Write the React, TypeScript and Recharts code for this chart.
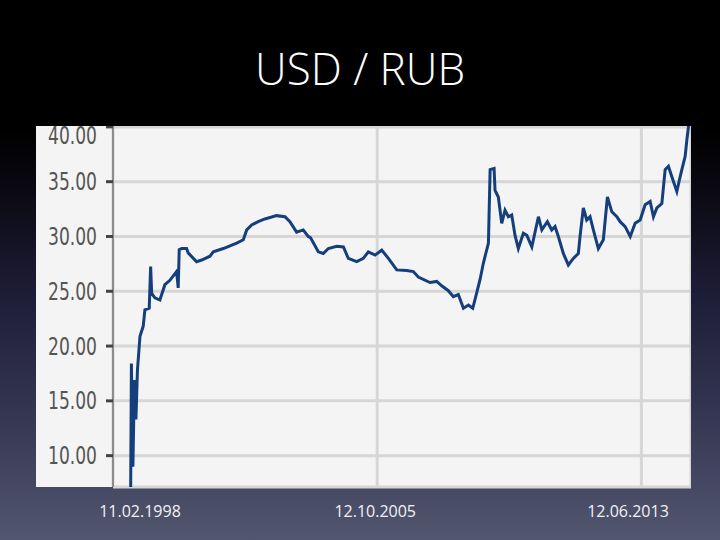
import React from "react";
import { CartesianGrid, Line, LineChart, XAxis, YAxis } from "recharts";

// USD/RUB (approximate)
const dates = [
  "1998-02-11", "1998-07-30", "1998-08-17", "1998-08-25", "1998-09-10", "1998-09-26",
  "1998-10-12", "1998-10-28", "1998-11-24", "1998-12-28", "1999-01-15", "1999-03-02",
  "1999-03-17", "1999-03-28", "1999-05-01", "1999-06-23", "1999-08-15", "1999-10-07",
  "1999-12-17", "2000-01-03", "2000-01-14", "2000-02-08", "2000-04-01", "2000-04-18",
  "2000-07-16", "2000-09-08", "2000-12-05", "2001-01-09", "2001-04-25", "2001-09-14",
  "2001-11-23", "2001-12-29", "2002-02-20", "2002-04-30", "2002-07-10", "2002-11-11",
  "2003-02-08", "2003-04-01", "2003-06-11", "2003-08-20", "2003-10-12", "2003-11-05",
  "2004-01-27", "2004-03-20", "2004-05-12", "2004-08-09", "2004-10-19", "2004-12-10",
  "2005-03-09", "2005-05-18", "2005-07-10", "2005-09-19", "2005-11-29", "2006-02-08",
  "2006-05-07", "2006-08-21", "2006-10-30", "2006-12-22", "2007-04-25", "2007-07-05",
  "2007-08-27", "2007-11-05", "2007-12-28", "2008-02-19", "2008-04-13", "2008-06-05",
  "2008-07-21", "2008-09-02", "2008-10-07", "2008-11-10", "2009-01-03", "2009-01-21",
  "2009-03-04", "2009-03-14", "2009-04-18", "2009-05-24", "2009-06-28", "2009-08-02",
  "2009-09-07", "2009-10-12", "2009-11-16", "2010-01-08", "2010-02-14", "2010-04-08",
  "2010-06-17", "2010-07-23", "2010-09-20", "2010-11-05", "2010-12-10", "2011-01-14",
  "2011-03-08", "2011-04-30", "2011-06-22", "2011-08-14", "2011-09-01", "2011-10-06",
  "2011-11-11", "2011-12-16", "2012-01-20", "2012-03-13", "2012-05-05", "2012-06-17",
  "2012-08-03", "2012-09-25", "2012-10-30", "2012-12-22", "2013-02-14", "2013-04-07",
  "2013-05-30", "2013-07-22", "2013-09-13", "2013-10-18", "2013-11-23", "2014-01-15",
  "2014-02-19", "2014-03-26", "2014-05-01", "2014-06-23", "2014-07-20", "2014-08-15",
  "2014-09-19", "2014-10-07", "2014-10-24", "2014-11-10"
];

const rates = [
  6.1, 6.3, 6.5, 18.4, 9.0, 16.9,
  13.3, 17.8, 20.9, 21.8, 23.3, 23.45,
  27.25, 24.8, 24.4, 24.2, 25.6, 26.0,
  26.8, 25.3, 28.8, 28.9, 28.9, 28.5,
  27.7, 27.85, 28.2, 28.6, 28.9, 29.4,
  29.7, 30.6, 31.05, 31.35, 31.6, 31.9,
  31.8, 31.35, 30.4, 30.6, 30.0, 29.9,
  28.6, 28.45, 28.9, 29.1, 29.05, 28.0,
  27.7, 28.0, 28.6, 28.3, 28.75, 28.0,
  26.95, 26.9, 26.8, 26.3, 25.8, 25.9,
  25.5, 25.05, 24.5, 24.7, 23.45, 23.75,
  23.45, 24.9, 26.1, 27.55, 29.4, 36.1,
  36.2, 34.2, 33.6, 31.2, 32.4, 31.8,
  31.95, 30.1, 28.9, 30.3, 30.1, 29.05,
  31.8, 30.6, 31.35, 30.6, 30.9, 30.0,
  28.45, 27.4, 28.0, 28.45, 30.0, 32.6,
  31.5, 31.8, 30.6, 28.9, 29.7, 33.6,
  32.25, 31.8, 31.35, 30.9, 30.0, 31.2,
  31.5, 32.9, 33.2, 31.8, 32.6, 33.0,
  36.1, 36.4, 35.45, 34.1, 35.15, 36.1,
  37.3, 38.8, 40.0, 40.6
];

const xTickDates = ["1998-02-11", "2005-10-12", "2013-06-12"];
const xTickLabels = ["11.02.1998", "12.10.2005", "12.06.2013"];
const yTicks = [10, 15, 20, 25, 30, 35, 40];

const toTime = (d: string) => Date.parse(d + "T00:00:00Z");

const rows = dates.map((d, i) => ({ t: toTime(d), rate: rates[i] }));
const xTicks = xTickDates.map(toTime);

// the slide text sits a little off the grid lines
const labelNudge = [27, -2, -11];

function DateTick({ x, y, index }: { x?: number; y?: number; index?: number }) {
  const i = index ?? 0;
  return (
    <text
      x={(x ?? 0) + labelNudge[i]}
      y={(y ?? 0) + 30}
      textAnchor="middle"
      fill="#f2f2f6"
      fontSize={16}
      fontFamily="'Open Sans', sans-serif"
    >
      {xTickLabels[i]}
    </text>
  );
}

function RateTick({ x, y, payload }: { x?: number; y?: number; payload?: { value: number } }) {
  const v = payload?.value ?? 0;
  return (
    <text
      x={(x ?? 0) - 1}
      y={y ?? 0}
      dy="0.36em"
      textAnchor="end"
      fill="#555"
      fontSize={24}
      fontFamily="'DejaVu Sans', sans-serif"
      textLength={49}
      lengthAdjust="spacingAndGlyphs"
    >
      {v.toFixed(2)}
    </text>
  );
}

export default function App() {
  return (
    <div
      style={{
        position: "absolute",
        left: 0,
        top: 0,
        width: 720,
        height: 540,
        overflow: "hidden",
        background:
          "linear-gradient(to bottom, #000 0px, #000 130px, #0c0b16 200px, #1f1e38 300px, #32334e 400px, #52566f 540px)"
      }}
    >
      <div
        style={{
          position: "absolute",
          top: 38,
          left: 0,
          width: 720,
          textAlign: "center",
          color: "#fff",
          fontFamily: "'Open Sans', sans-serif",
          fontWeight: 300,
          fontSize: 44
        }}
      >
        USD / RUB
      </div>

      <div
        style={{
          position: "absolute",
          left: 36,
          top: 126,
          width: 655,
          height: 361,
          background: "#f4f4f4"
        }}
      />

      <div style={{ position: "absolute", left: 36, top: 126 }}>
        <LineChart width={655} height={400} data={rows} margin={{ top: 0, right: 0, bottom: 0, left: 0 }}>
          <CartesianGrid stroke="#d6d6d6" strokeWidth={3} />
          <XAxis
            dataKey="t"
            type="number"
            domain={[toTime("1998-02-11"), toTime("2014-11-20")]}
            ticks={xTicks}
            allowDataOverflow
            axisLine={false}
            tickLine={false}
            tickSize={0}
            tickMargin={0}
            height={39}
            tick={<DateTick />}
          />
          <YAxis
            type="number"
            domain={[7.14, 40.08]}
            ticks={yTicks}
            allowDataOverflow
            width={77}
            axisLine={{ stroke: "#8c8c8c", strokeWidth: 2 }}
            tickLine={{ stroke: "#444", strokeWidth: 3 }}
            tickSize={7}
            tickMargin={8}
            tick={<RateTick />}
          />
          <Line
            type="linear"
            dataKey="rate"
            stroke="#143f7c"
            strokeWidth={3}
            dot={false}
            isAnimationActive={false}
          />
        </LineChart>
      </div>
    </div>
  );
}
